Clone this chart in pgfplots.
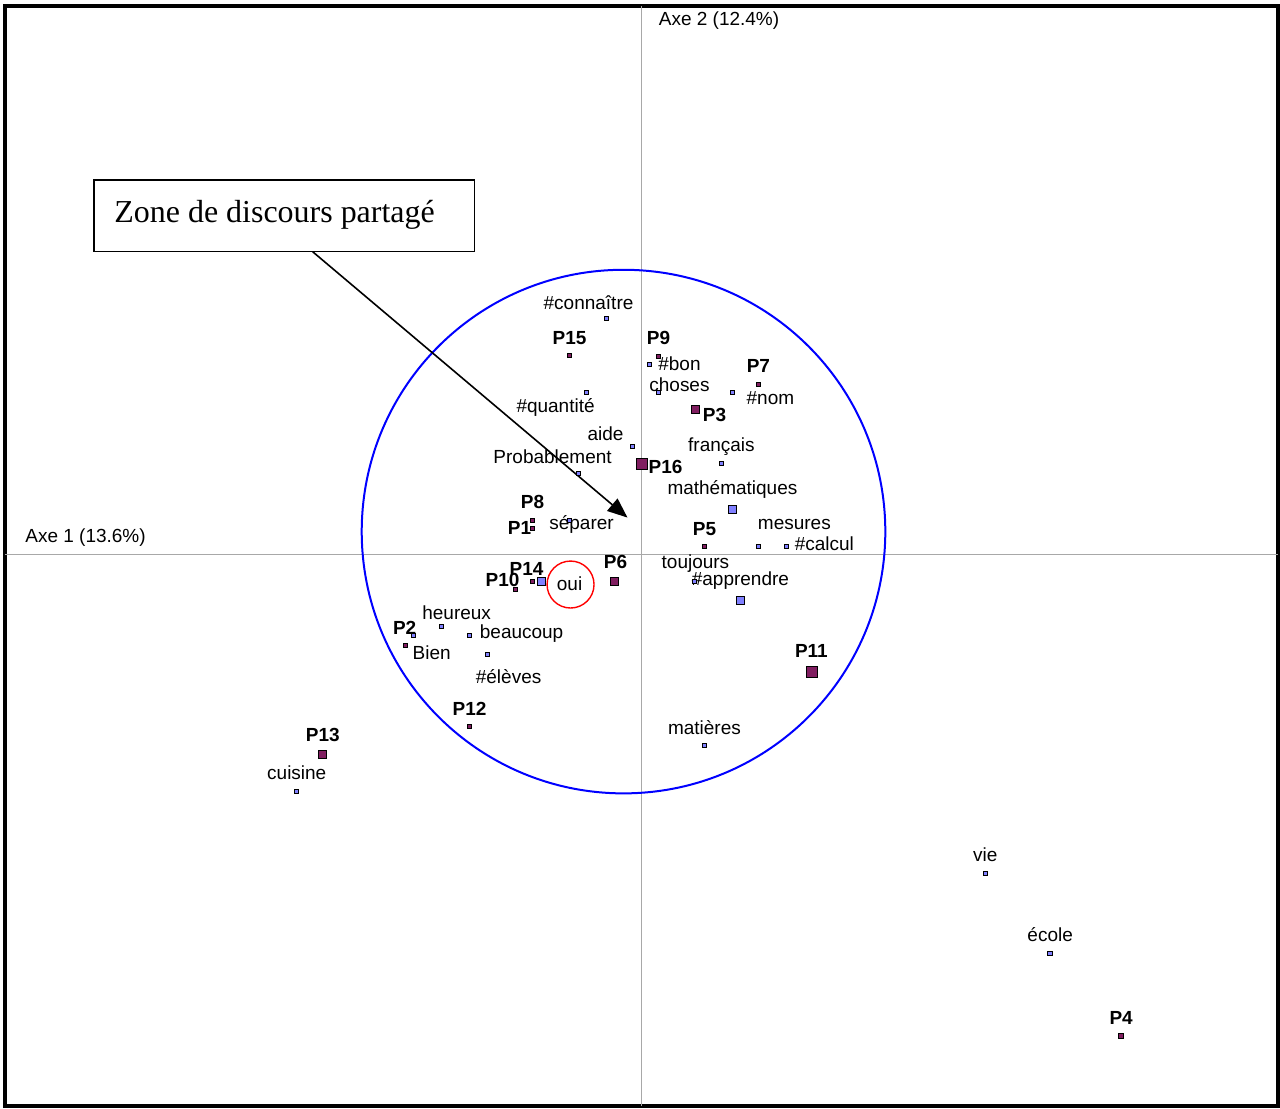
\documentclass[border=0pt]{standalone}
\usepackage{pgfplots}
\pgfplotsset{compat=1.18}
\usepackage{fontspec}
\setmainfont{Liberation Sans}
\newfontfamily\seriffont{Liberation Serif}
\usetikzlibrary{arrows.meta}
\definecolor{plum}{RGB}{128,30,96}
\definecolor{lav}{RGB}{128,128,255}
\definecolor{axgray}{RGB}{168,168,168}
\tikzset{
  lbl/.style={font=\fontsize{9.5}{11}\selectfont, inner sep=0pt, anchor=center, yshift=-1.4pt},
  pl/.style={font=\fontsize{9.5}{11}\selectfont\bfseries, inner sep=0pt, anchor=center, yshift=-1.2pt},
}
\begin{document}
\begin{tikzpicture}
\begin{axis}[
  scale only axis, width=640pt, height=554.5pt,
  xmin=-642, xmax=638, ymin=-554, ymax=555,
  hide axis, clip=false,
]
% bounding box
\path (axis cs:-642,-554) rectangle (axis cs:638,555);
% frame
\draw[line width=2pt] (axis cs:-637,549) rectangle (axis cs:637,-552);
% axes
\draw[axgray, line width=0.5pt] (axis cs:0,-552) -- (axis cs:0,549);
\draw[axgray, line width=0.5pt] (axis cs:-637,0) -- (axis cs:637,0);
\node[lbl, anchor=west] at (axis cs:17,537) {Axe 2 (12.4\%)};
\node[lbl, anchor=west] at (axis cs:-617,20) {Axe 1 (13.6\%)};
% circles
\draw[blue, line width=1pt] (axis cs:-18,23) circle[radius=131pt];
\draw[red, line width=0.7pt] (axis cs:-71,-30) circle[radius=11.75pt];

% small word markers (blue)
\addplot[only marks, mark=square*, mark size=1.1pt, mark options={draw=black, fill=lav, line width=0.5pt}] table {
x y
-35 236
8 190
17 162
-55 162
-9 108
-63 81
91 162
80 91
117 8
145 8
-72 34
53 -27
-200 -72
-228 -81
-172 -81
-154 -100
63 -191
-345 -237
344 -319
409 -399
};
% medium word markers (blue)
\addplot[only marks, mark=square*, mark size=2pt, mark options={draw=black, fill=lav, line width=0.5pt}] table {
x y
91 45
99 -46
-100 -27
};
% small P markers (plum)
\addplot[only marks, mark=square*, mark size=1.1pt, mark options={draw=black, fill=plum, line width=0.5pt}] table {
x y
-72 199
17 198
117 170
63 8
-109 34
-109 26
-109 -27
-126 -35
-236 -91
-172 -172
480 -482
};
% medium P markers
\addplot[only marks, mark=square*, mark size=2pt, mark options={draw=black, fill=plum, line width=0.5pt}] table {
x y
54 145
-27 -27
-319 -200
};
% large P markers
\addplot[only marks, mark=square*, mark size=2.75pt, mark options={draw=black, fill=plum, line width=0.5pt}] table {
x y
0 91
171 -118
};

% P labels
\node[pl] at (axis cs:-72,219) {P15};
\node[pl] at (axis cs:17,219) {P9};
\node[pl] at (axis cs:117,191) {P7};
\node[pl] at (axis cs:73,142) {P3};
\node[pl] at (axis cs:24,90) {P16};
\node[pl] at (axis cs:63,28) {P5};
\node[pl] at (axis cs:-109,55) {P8};
\node[pl] at (axis cs:-122,29) {P1};
\node[pl] at (axis cs:-115,-12) {P14};
\node[pl] at (axis cs:-139,-23) {P10};
\node[pl] at (axis cs:-26,-5) {P6};
\node[pl] at (axis cs:-237,-71) {P2};
\node[pl] at (axis cs:-172,-152) {P12};
\node[pl] at (axis cs:170,-94) {P11};
\node[pl] at (axis cs:-319,-178) {P13};
\node[pl] at (axis cs:480,-461) {P4};

% word labels
\node[lbl] at (axis cs:-53,255) {\#connaître};
\node[lbl] at (axis cs:38,194) {\#bon};
\node[lbl] at (axis cs:38,173) {choses};
\node[lbl] at (axis cs:129,159) {\#nom};
\node[lbl] at (axis cs:-86,150) {\#quantité};
\node[lbl] at (axis cs:-36,124) {aide};
\node[lbl] at (axis cs:80,111) {français};
\node[lbl] at (axis cs:-89,101) {Probablement};
\node[lbl] at (axis cs:91,68) {mathématiques};
\node[lbl] at (axis cs:-60,33) {séparer};
\node[lbl] at (axis cs:153,33) {mesures};
\node[lbl] at (axis cs:183,14) {\#calcul};
\node[lbl] at (axis cs:54,-6) {toujours};
\node[lbl] at (axis cs:99,-23) {\#apprendre};
\node[lbl] at (axis cs:-72,-26) {oui};
\node[lbl] at (axis cs:-185,-55) {heureux};
\node[lbl] at (axis cs:-120,-76) {beaucoup};
\node[lbl] at (axis cs:-210,-95) {Bien};
\node[lbl] at (axis cs:-133,-119) {\#élèves};
\node[lbl] at (axis cs:63,-170) {matières};
\node[lbl] at (axis cs:-345,-216) {cuisine};
\node[lbl] at (axis cs:344,-298) {vie};
\node[lbl] at (axis cs:409,-378) {école};

% text box and arrow
\draw[line width=0.7pt, fill=white] (axis cs:-548,375) rectangle (axis cs:-167,303);
\node[font=\seriffont\fontsize{16}{18}\selectfont, inner sep=0pt, anchor=west] at (axis cs:-528,340) {Zone de discours partagé};
\draw[line width=0.8pt, -{Triangle[length=10pt,width=8pt]}] (axis cs:-329,303) -- (axis cs:-14,37);
\end{axis}
\end{tikzpicture}
\end{document}
